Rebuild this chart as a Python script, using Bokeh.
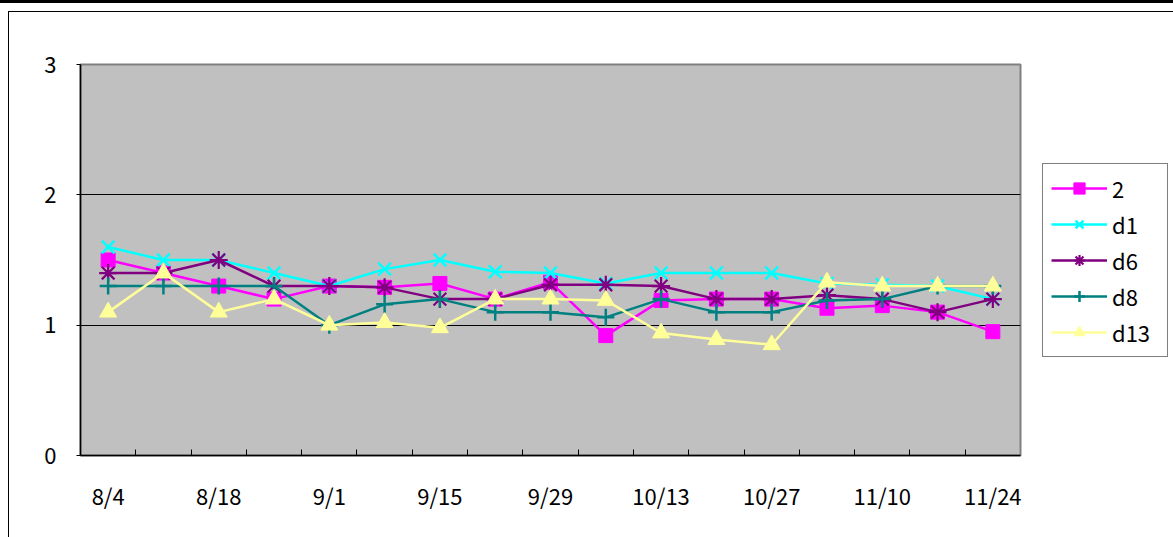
from bokeh.plotting import figure
from bokeh.models import (FactorRange, Range1d, LinearAxis, FixedTicker, Legend,
                          LegendItem, ColumnDataSource)
from bokeh.embed import file_html
from bokeh.resources import INLINE

dates = ["8/4", "8/11", "8/18", "8/25", "9/1", "9/8", "9/15", "9/22", "9/29",
         "10/6", "10/13", "10/20", "10/27", "11/3", "11/10", "11/17", "11/24"]

s_2 = [1.50, 1.40, 1.30, 1.20, 1.30, 1.29, 1.32, 1.20, 1.33, 0.92, 1.19, 1.20, 1.20, 1.13, 1.15, 1.10, 0.95]
s_d1 = [1.60, 1.50, 1.50, 1.40, 1.30, 1.43, 1.50, 1.41, 1.40, 1.32, 1.40, 1.40, 1.40, 1.32, 1.31, 1.30, 1.20]
s_d6 = [1.40, 1.40, 1.50, 1.30, 1.30, 1.29, 1.20, 1.20, 1.31, 1.31, 1.30, 1.20, 1.20, 1.23, 1.20, 1.10, 1.20]
s_d8 = [1.30, 1.30, 1.30, 1.30, 1.00, 1.16, 1.20, 1.10, 1.10, 1.06, 1.20, 1.10, 1.10, 1.19, 1.20, 1.30, 1.30]
s_d13 = [1.10, 1.40, 1.10, 1.20, 1.00, 1.02, 0.98, 1.20, 1.20, 1.19, 0.94, 0.89, 0.85, 1.33, 1.30, 1.30, 1.30]

y_ticks = [0, 1, 2, 3]

FONT = "Noto Sans CJK JP"

page_style = {
    "background-image": ("linear-gradient(black, black), "
                         "linear-gradient(black, black), "
                         "linear-gradient(black, black)"),
    "background-size": "100% 3px, calc(100% - 8px) 1px, 1px calc(100% - 11px)",
    "background-position": "0px 0px, 8px 11px, 8px 11px",
    "background-repeat": "no-repeat",
}

p = figure(width=1173, height=537, frame_width=940, frame_height=391,
           x_range=FactorRange(factors=dates, range_padding=0),
           y_range=Range1d(0, 3),
           x_axis_type=None,
           output_backend="svg", toolbar_location=None,
           min_border_left=80, min_border_right=153,
           min_border_top=64, min_border_bottom=82,
           background_fill_color="#C0C0C0", border_fill_color=None,
           styles=page_style)

p.outline_line_color = "#808080"
p.outline_line_width = 2

# x axis: labels at every other category centre, small ticks at category boundaries
label_pos = [i + 0.5 for i in range(0, len(dates), 2)]
xa = LinearAxis(ticker=FixedTicker(ticks=label_pos,
                                   minor_ticks=list(range(1, len(dates)))),
                major_label_overrides={i + 0.5: dates[i] for i in range(0, len(dates), 2)})
xa.major_tick_in = 0
xa.major_tick_out = 0
xa.minor_tick_in = 6
xa.minor_tick_out = 0
xa.minor_tick_line_color = "black"
xa.axis_line_color = "black"
xa.axis_line_width = 1.5
xa.major_label_standoff = 23
xa.major_label_text_font = FONT
xa.major_label_text_font_size = "22px"
xa.major_label_text_color = "black"
p.add_layout(xa, "below")

ya = p.yaxis[0]
ya.ticker = FixedTicker(ticks=y_ticks)
ya.major_tick_in = 0
ya.major_tick_out = 4
ya.minor_tick_line_color = None
ya.axis_line_color = "black"
ya.axis_line_width = 1.5
ya.major_label_standoff = 20
ya.major_label_text_font = FONT
ya.major_label_text_font_size = "22px"
ya.major_label_text_color = "black"

p.xgrid.visible = False
p.ygrid.ticker = FixedTicker(ticks=y_ticks)
p.ygrid.grid_line_color = "black"
p.ygrid.grid_line_width = 1

series = [
    ("2", s_2, "#FF00FF", "square", 14, 1),
    ("d1", s_d1, "#00FFFF", "x", 18, 2.5),
    ("d6", s_d6, "#800080", "asterisk", 18, 2.2),
    ("d8", s_d8, "#008080", "cross", 17, 2.5),
    ("d13", s_d13, "#FFFF99", "triangle", 17, 1),
]

items = []
for name, vals, color, marker, size, mlw in series:
    src = ColumnDataSource(dict(x=dates, y=vals))
    ln = p.line("x", "y", source=src, line_color=color, line_width=2.5)
    sc = p.scatter("x", "y", source=src, marker=marker, size=size,
                   fill_color=color, line_color=color, line_width=mlw)
    items.append(LegendItem(label=name, renderers=[ln, sc]))

legend = Legend(items=items, location="center_left")
legend.border_line_color = "black"
legend.border_line_width = 1
legend.background_fill_color = "white"
legend.background_fill_alpha = 1
legend.label_text_font = FONT
legend.label_text_font_size = "22px"
legend.label_text_color = "black"
legend.glyph_width = 56
legend.glyph_height = 28
legend.label_height = 28
legend.label_width = 47
legend.label_standoff = 5
legend.spacing = 4
legend.padding = 8
legend.margin = 22
p.add_layout(legend, "right")

open("out.html", "w").write(file_html(p, INLINE))
